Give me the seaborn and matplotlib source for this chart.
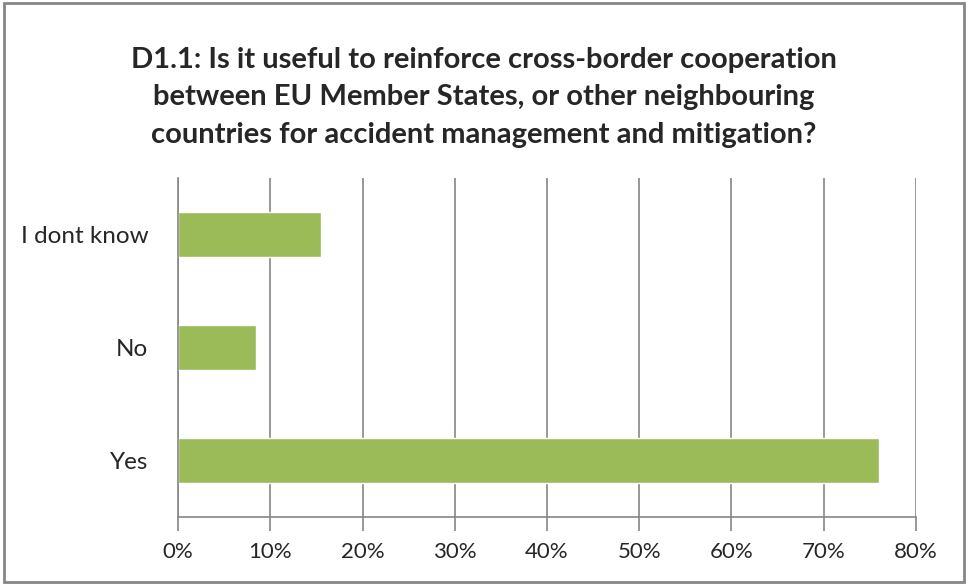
import matplotlib
matplotlib.use("Agg")
import matplotlib.pyplot as plt
import seaborn as sns
from matplotlib.patches import Rectangle
from matplotlib.ticker import FuncFormatter, MultipleLocator

# answers, top to bottom as in the chart
categories = ["I dont know", "No", "Yes"]
shares = [15.5, 8.5, 76.0]
title = ("D1.1: Is it useful to reinforce cross-border cooperation\n"
         "between EU Member States, or other neighbouring\n"
         "countries for accident management and mitigation?")

bar_color = "#9BBB59"
grid_color = "#868686"

sns.set_style("white")
plt.rcParams["font.family"] = ["Liberation Sans Narrow", "Lato", "DejaVu Sans"]

fig, ax = plt.subplots(figsize=(9.68, 5.85), dpi=100)
fig.subplots_adjust(left=0.184, right=0.946, top=0.695, bottom=0.117)

sns.barplot(x=shares, y=categories, color=bar_color, width=0.4,
            saturation=1, ax=ax)

ax.set_xlim(0, 80)
ax.xaxis.set_major_locator(MultipleLocator(10))
ax.xaxis.set_major_formatter(FuncFormatter(lambda v, p: f"{v:.0f}%"))
ax.grid(axis="x", color=grid_color, linewidth=1.2)
ax.set_axisbelow(True)

for s in ["top", "right"]:
    ax.spines[s].set_visible(False)
for s in ["left", "bottom"]:
    ax.spines[s].set_color(grid_color)
    ax.spines[s].set_linewidth(1.2)

ax.tick_params(axis="x", bottom=True, length=10, width=1.2, color=grid_color,
               labelsize=16, pad=8)
ax.tick_params(axis="y", left=False, labelsize=17.5, pad=18)
ax.set_xlabel("")
ax.set_ylabel("")

fig.text(0.5, 0.834, title, ha="center", va="center", fontsize=21,
         fontweight="bold", linespacing=1.55)

# chart border
fig.patches.append(Rectangle((0.004, 0.005), 0.992, 0.99, transform=fig.transFigure,
                             fill=False, edgecolor=grid_color, linewidth=2))

fig.savefig("out.png", dpi=100)
